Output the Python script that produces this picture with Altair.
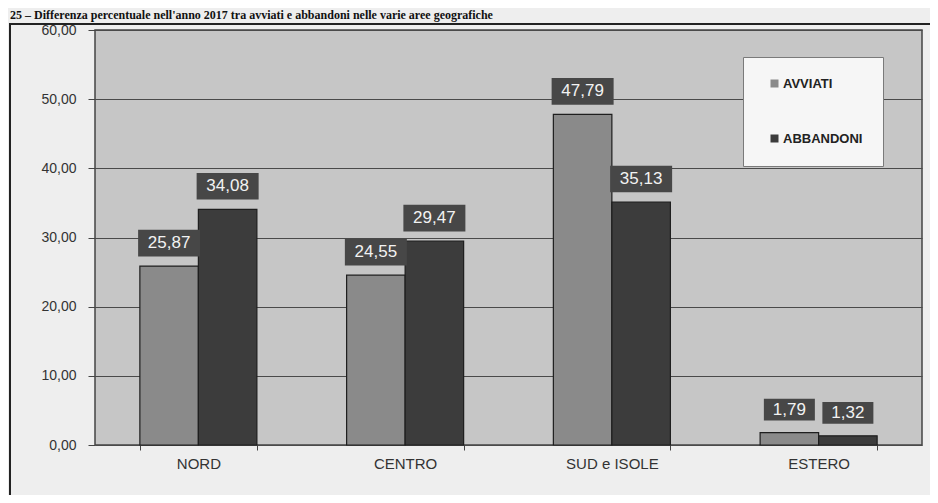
import altair as alt
import pandas as pd

aree = ["NORD", "CENTRO", "SUD e ISOLE", "ESTERO"]
serie = ["AVVIATI", "ABBANDONI"]
avviati = [25.87, 24.55, 47.79, 1.79]
abbandoni = [34.08, 29.47, 35.13, 1.32]
y_ticks = [0, 10, 20, 30, 40, 50, 60]
titolo = "25 – Differenza percentuale nell'anno 2017 tra avviati e abbandoni nelle varie aree geografiche"

rows = []
for i, a in enumerate(aree):
    rows.append({"area": a, "serie": serie[0], "valore": avviati[i]})
    rows.append({"area": a, "serie": serie[1], "valore": abbandoni[i]})
df = pd.DataFrame(rows)
df["etichetta"] = df["valore"].map(lambda v: f"{v:.2f}".replace(".", ","))

FONT = "Liberation Sans"

x_enc = alt.X(
    "area:N", sort=aree,
    scale=alt.Scale(paddingInner=0.434, paddingOuter=0.217),
    axis=alt.Axis(title=None, labelAngle=0, tickBand="extent", domain=False,
                  tickSize=5, tickColor="#444", labelPadding=6,
                  labelFont=FONT, labelFontSize=15, labelColor="#333"),
)
xo_enc = alt.XOffset("serie:N", sort=serie, scale=alt.Scale(paddingInner=0, paddingOuter=0))
y_enc = alt.Y(
    "valore:Q",
    scale=alt.Scale(domain=[0, 60], nice=False),
    axis=alt.Axis(title=None, values=y_ticks, domain=False,
                  labelExpr="replace(format(datum.value, '.2f'), '.', ',')",
                  grid=True, gridColor="#4a4a4a", gridWidth=1, gridOpacity=1,
                  tickSize=7, tickColor="#444", labelPadding=12,
                  labelFont=FONT, labelFontSize=14, labelColor="#333"),
)

base = alt.Chart(df)

bars = base.mark_bar(stroke="#1e1e1e", strokeWidth=1.2).encode(
    x=x_enc, xOffset=xo_enc, y=y_enc,
    color=alt.Color(
        "serie:N", sort=serie,
        scale=alt.Scale(domain=serie, range=["#8a8a8a", "#3c3c3c"]),
        legend=alt.Legend(
            title=None, orient="none", legendX=648, legendY=27,
            fillColor="#f6f6f6", strokeColor="#7a7a7a", padding=20,
            rowPadding=41, symbolType="square", symbolSize=64,
            symbolStrokeWidth=0, symbolOffset=5, labelOffset=2,
            labelFont=FONT, labelFontSize=13, labelFontWeight="bold",
            labelColor="#222",
            labelExpr="datum.label + '         '",
        ),
    ),
)

box_path = "M-1,-0.43L1,-0.43L1,0.43L-1,0.43Z"
boxes = base.transform_calculate(
    dim="pow(11 * length(datum.etichetta) + 7, 2)"
).mark_point(shape=box_path, filled=True, opacity=1, color="#474747", yOffset=-23).encode(
    x=x_enc, xOffset=xo_enc, y=y_enc,
    size=alt.Size("dim:Q", scale=None, legend=None),
)

labels = base.mark_text(color="#f2f2f2", font=FONT, fontSize=17, baseline="middle",
                        yOffset=-23).encode(
    x=x_enc, xOffset=xo_enc, y=y_enc, text="etichetta:N",
)

frame = alt.Chart(pd.DataFrame({"k": [0]})).mark_rect(
    filled=False, stroke="#222", strokeWidth=2
).encode(x=alt.value(-85), x2=alt.value(900), y=alt.value(-6), y2=alt.value(520))

title = alt.Chart(pd.DataFrame({"t": [titolo]})).mark_text(
    align="left", baseline="alphabetic", font="Liberation Serif",
    fontWeight="bold", fontSize=12, color="#111"
).encode(x=alt.value(-85), y=alt.value(-10.7), text="t:N")

chart = alt.layer(frame, title, bars, boxes, labels).properties(
    width=827, height=415,
    autosize=alt.AutoSizeParams(type="none"),
    padding={"left": 87, "top": 22, "right": 8, "bottom": 50},
    background="#eeeeee",
).configure_view(fill="#c6c6c6", stroke="#444", strokeWidth=1.5)

chart.save("out.html", embed_options={"renderer": "svg", "actions": False})
